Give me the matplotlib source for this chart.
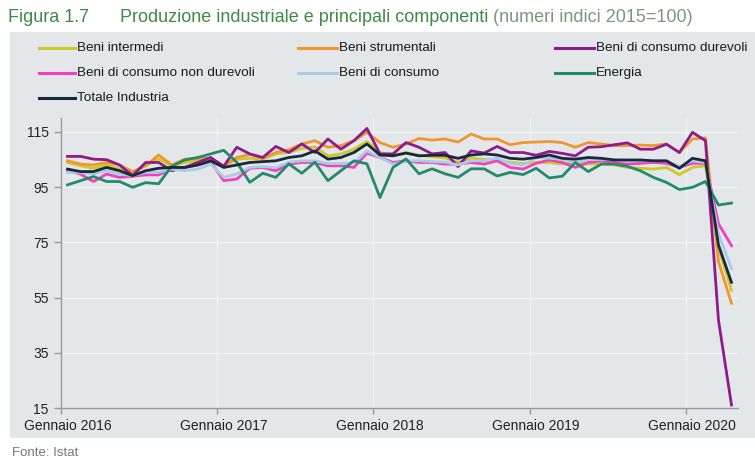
import matplotlib
matplotlib.use("Agg")
import matplotlib.pyplot as plt
from matplotlib.lines import Line2D
from matplotlib.patches import Rectangle
import numpy as np

# ---------------- data (monthly, Jan 2016 - Apr 2020) ----------------
beni_intermedi = [103.9, 102.7, 101.8, 103.0, 101.5, 100.3, 102.7, 105.1, 102.7, 103.9,
                  104.5, 105.1, 102.7, 105.1, 105.4, 105.1, 107.0, 107.5, 109.0, 109.5,
                  106.3, 107.0, 108.7, 111.5, 107.5, 106.5, 107.5, 106.5, 106.0, 105.5,
                  104.0, 105.5, 105.0, 104.5, 104.0, 103.5, 103.9, 103.9, 103.3, 103.9,
                  103.3, 103.5, 103.0, 102.1, 101.8, 101.5, 102.1, 99.5, 102.1, 102.7,
                  73.0, 57.6]
beni_strumentali = [104.5, 103.3, 103.0, 103.9, 103.0, 100.6, 102.7, 106.6, 103.0, 105.1,
                    105.4, 105.4, 102.7, 105.7, 106.8, 105.4, 107.5, 108.5, 110.6, 111.8,
                    109.4, 110.0, 111.8, 114.8, 111.1, 109.4, 110.6, 112.6, 112.0, 112.4,
                    111.3, 114.2, 112.4, 112.4, 110.3, 111.1, 111.3, 111.5, 111.1, 109.4,
                    111.1, 110.6, 110.0, 110.0, 110.2, 110.0, 110.6, 107.5, 112.4, 112.8,
                    68.0, 52.9]
beni_durevoli = [106.1, 106.1, 105.1, 104.9, 103.0, 99.1, 103.9, 103.9, 100.9, 102.1,
                 103.9, 105.7, 102.5, 109.4, 107.0, 105.7, 109.7, 107.5, 110.6, 107.5,
                 112.4, 108.7, 111.8, 116.2, 107.0, 107.0, 111.1, 109.4, 107.0, 107.5,
                 102.4, 108.1, 107.3, 109.7, 107.5, 107.5, 106.5, 107.9, 107.2, 106.3,
                 109.4, 109.6, 110.3, 111.0, 108.7, 108.7, 110.5, 107.5, 114.8, 111.8,
                 46.8, 16.1]
beni_non_durevoli = [100.9, 99.7, 97.0, 99.7, 98.5, 98.9, 99.4, 99.4, 101.5, 102.1,
                     103.0, 104.2, 97.3, 97.9, 101.8, 102.1, 100.9, 103.3, 103.9, 103.9,
                     102.7, 102.7, 102.1, 107.3, 105.7, 103.9, 104.5, 103.9, 103.9, 103.3,
                     103.3, 103.9, 103.3, 104.5, 102.1, 101.5, 103.6, 104.8, 103.9, 102.1,
                     103.9, 104.5, 103.9, 103.3, 103.6, 103.9, 103.6, 102.1, 103.6, 103.6,
                     81.7, 73.8]
beni_consumo = [100.3, 100.3, 99.7, 100.9, 99.7, 99.1, 100.3, 100.3, 101.5, 100.9,
                101.5, 103.3, 98.5, 99.7, 102.1, 102.4, 102.0, 104.0, 104.5, 104.5,
                103.5, 103.5, 103.8, 108.1, 105.7, 103.3, 104.5, 104.5, 104.2, 104.0,
                103.0, 104.5, 104.5, 105.5, 103.5, 103.0, 105.7, 105.5, 105.0, 104.0,
                105.0, 105.0, 105.0, 104.5, 104.5, 104.5, 104.5, 102.5, 104.5, 103.9,
                78.0, 65.5]
energia = [95.8, 97.3, 98.8, 97.0, 97.0, 94.9, 96.6, 96.2, 102.5, 104.8,
           105.7, 107.0, 108.3, 104.0, 96.7, 100.0, 98.5, 103.4, 100.0, 104.0,
           97.3, 100.9, 104.5, 103.4, 91.2, 102.1, 105.2, 99.8, 101.6, 99.8,
           98.5, 101.6, 101.6, 99.0, 100.3, 99.5, 101.8, 98.3, 98.9, 103.9,
           100.6, 103.3, 103.3, 102.5, 100.9, 98.5, 96.7, 94.1, 94.9, 97.0,
           88.5, 89.2]
totale = [101.5, 100.6, 100.6, 102.1, 100.9, 99.1, 100.9, 101.8, 102.1, 102.1,
          103.0, 104.5, 102.1, 103.0, 103.9, 104.2, 104.5, 105.7, 106.3, 108.1,
          105.1, 105.7, 107.5, 110.6, 106.6, 106.3, 107.3, 106.3, 106.5, 106.5,
          105.4, 106.6, 107.0, 106.6, 105.4, 105.1, 105.7, 106.6, 105.4, 105.1,
          105.7, 105.4, 104.8, 104.8, 104.8, 104.5, 104.5, 101.8, 105.4, 104.5,
          74.0, 60.5]

series_names = ["Beni intermedi", "Beni strumentali", "Beni di consumo durevoli",
                "Beni di consumo non durevoli", "Beni di consumo", "Energia",
                "Totale Industria"]
series_values = [beni_intermedi, beni_strumentali, beni_durevoli, beni_non_durevoli,
                 beni_consumo, energia, totale]
colors = ["#cdc92a", "#f0962e", "#8f1a8c", "#f23fbd", "#a9cbe6", "#238a6c", "#17293a"]

year_labels = ["Gennaio 2016", "Gennaio 2017", "Gennaio 2018", "Gennaio 2019", "Gennaio 2020"]
y_ticks = [15, 35, 55, 75, 95, 115]

# ---------------- figure ----------------
W, H = 755, 461
fig = plt.figure(figsize=(W / 100, H / 100), dpi=100)
fig.patch.set_facecolor("white")

def fx(px):
    return px / W

def fy(py):
    return 1 - py / H

panel_color = "#e4e7e9"
fig.add_artist(Rectangle((fx(10), fy(438)), fx(745), 406 / H, transform=fig.transFigure,
                         facecolor=panel_color, edgecolor="none", zorder=0))

regular = ["Liberation Sans", "DejaVu Sans"]

# title
fig.text(fx(8), fy(18), "Figura 1.7", family=regular, fontsize=13,
         color="#3f8a46", va="center", ha="left")
t2 = fig.text(fx(120), fy(18), "Produzione industriale e principali componenti",
              family=regular, fontsize=13, color="#3f8a46", va="center", ha="left")
fig.canvas.draw()
bb = t2.get_window_extent()
fig.text(bb.x1 / W + fx(5), fy(18), "(numeri indici 2015=100)", family=regular,
         fontsize=13, color="#7d967c", va="center", ha="left")

# axes
ax = fig.add_axes([fx(61), fy(408), fx(738 - 61), (408 - 118) / H])
ax.set_facecolor("none")
x = np.arange(len(totale))
for name, vals, c in zip(series_names, series_values, colors):
    ax.plot(x, vals, color=c, lw=2.0, solid_joinstyle="round", zorder=3)

ax.set_xlim(-0.5, len(totale) - 0.5)
ax.set_ylim(15, 120)
ax.set_yticks(y_ticks)
ax.set_yticklabels([str(v) for v in y_ticks], family=regular, fontsize=10, color="#222222")
major = np.arange(-0.5, len(totale), 12)
ax.set_xticks(major)
ax.set_xticklabels([])
ax.set_xticks(np.arange(0, len(totale), 12), minor=True)
ax.set_xticklabels(year_labels, minor=True, family=regular, fontsize=10, color="#222222")
ax.tick_params(axis="x", which="minor", length=0, pad=8)
ax.tick_params(axis="x", which="major", length=4, color="#9a9a9a", width=1)
ax.tick_params(axis="y", length=5, color="#9a9a9a", width=1, pad=4)
ax.grid(True, which="major", color="#f1f2f3", lw=1.0, zorder=1)
for s in ["top", "right"]:
    ax.spines[s].set_visible(False)
for s in ["left", "bottom"]:
    ax.spines[s].set_color("#9a9a9a")
    ax.spines[s].set_linewidth(1.0)

# legend (manual, 3 columns)
leg_lines = [(39, 75), (298, 337), (555, 594)]
leg_rows = [48, 73, 98]
for i, (name, c) in enumerate(zip(series_names, colors)):
    r, col = divmod(i, 3)
    x0, x1 = leg_lines[col]
    y0 = leg_rows[r]
    fig.add_artist(Line2D([fx(x0), fx(x1)], [fy(y0), fy(y0)], transform=fig.transFigure,
                          color=c, lw=2.2))
    fig.text(fx(x1 + 2), fy(y0), name, family=regular, fontsize=9.7, color="#1a1a1a",
             va="center", ha="left")

fig.text(fx(12), fy(453), "Fonte: Istat", family=regular, fontsize=9.5, color="#777777",
         va="center", ha="left")

fig.savefig("out.png", dpi=100, facecolor="white")
